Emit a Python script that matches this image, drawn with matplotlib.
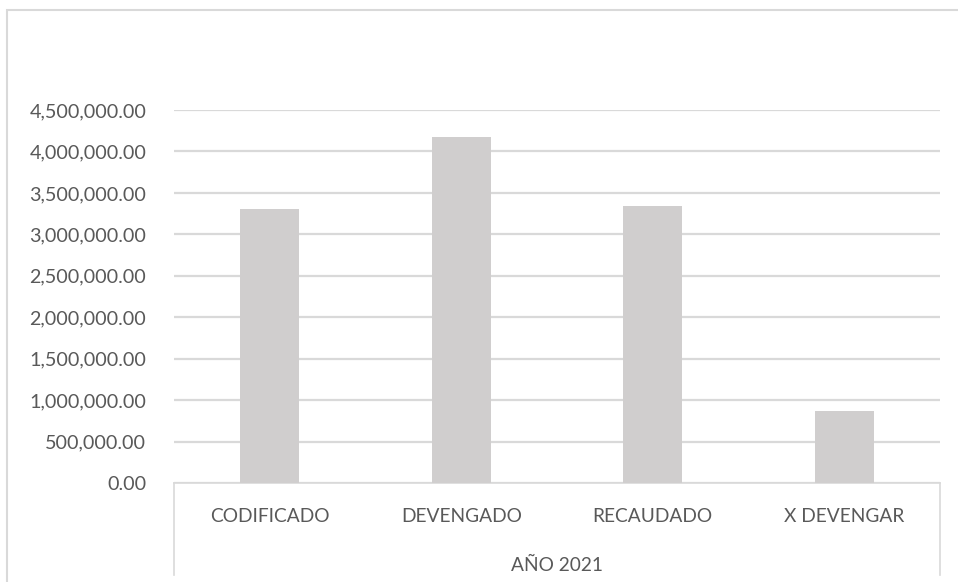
import matplotlib.pyplot as plt
from matplotlib.lines import Line2D
from matplotlib.patches import Rectangle
from matplotlib.ticker import FuncFormatter
from matplotlib.transforms import blended_transform_factory
import numpy as np

plt.rcParams['font.family'] = ['Lato', 'DejaVu Sans']

##### Chart data
categorias = ['CODIFICADO', 'DEVENGADO', 'RECAUDADO', 'X DEVENGAR']
valores = [3300000, 4170000, 3345000, 865000]
grupo = 'AÑO 2021'

W, H = 958, 582
texto = '#595959'
linea = '#D9D9D9'

fig = plt.figure(figsize=(W / 100, H / 100), dpi=100)

##### Plot area in pixel units (left, bottom edge of axis, right, top gridline)
x0, x1, y0, y1 = 174, 940, 483, 110
ax = fig.add_axes([x0 / W, 1 - y0 / H, (x1 - x0) / W, (y0 - y1) / H])

x = np.arange(len(categorias))
ax.bar(x, valores, width=0.31, color='#D0CECE', zorder=3)
ax.set_xlim(-0.5, len(categorias) - 0.5)
ax.set_ylim(0, 4500000)
ax.set_yticks(np.arange(0, 4500001, 500000))
ax.yaxis.set_major_formatter(FuncFormatter(lambda v, p: f'{v:,.2f}'))
ax.yaxis.grid(True, color=linea, linewidth=1.6, zorder=0)
ax.tick_params(axis='y', length=0, pad=20, labelsize=14.2, labelcolor=texto)
ax.set_xticks([])
for s in ['top', 'right', 'left']:
    ax.spines[s].set_visible(False)
ax.spines['bottom'].set_color(linea)
ax.spines['bottom'].set_linewidth(1.2)

##### Category labels and the group row beneath them
tr = blended_transform_factory(ax.transData, fig.transFigure)
for xi, c in zip(x, categorias):
    ax.text(xi, 1 - 517 / H, c, transform=tr, ha='center', va='center',
            fontsize=13.8, color=texto)
ax.text(np.mean(x), 1 - 565 / H, grupo, transform=tr, ha='center',
        va='center', fontsize=13.8, color=texto)

for xp in (x0, x1):
    fig.add_artist(Line2D([xp / W, xp / W], [1 - y0 / H, 1 - 575 / H],
                          color=linea, linewidth=1.2))

##### Chart border
fig.add_artist(Rectangle((7 / W, -0.1), 1.2, 1 - 10 / H + 0.1,
                         transform=fig.transFigure, fill=False,
                         edgecolor='#D9D9D9', linewidth=1.5))

fig.savefig('out.png', dpi=100)
